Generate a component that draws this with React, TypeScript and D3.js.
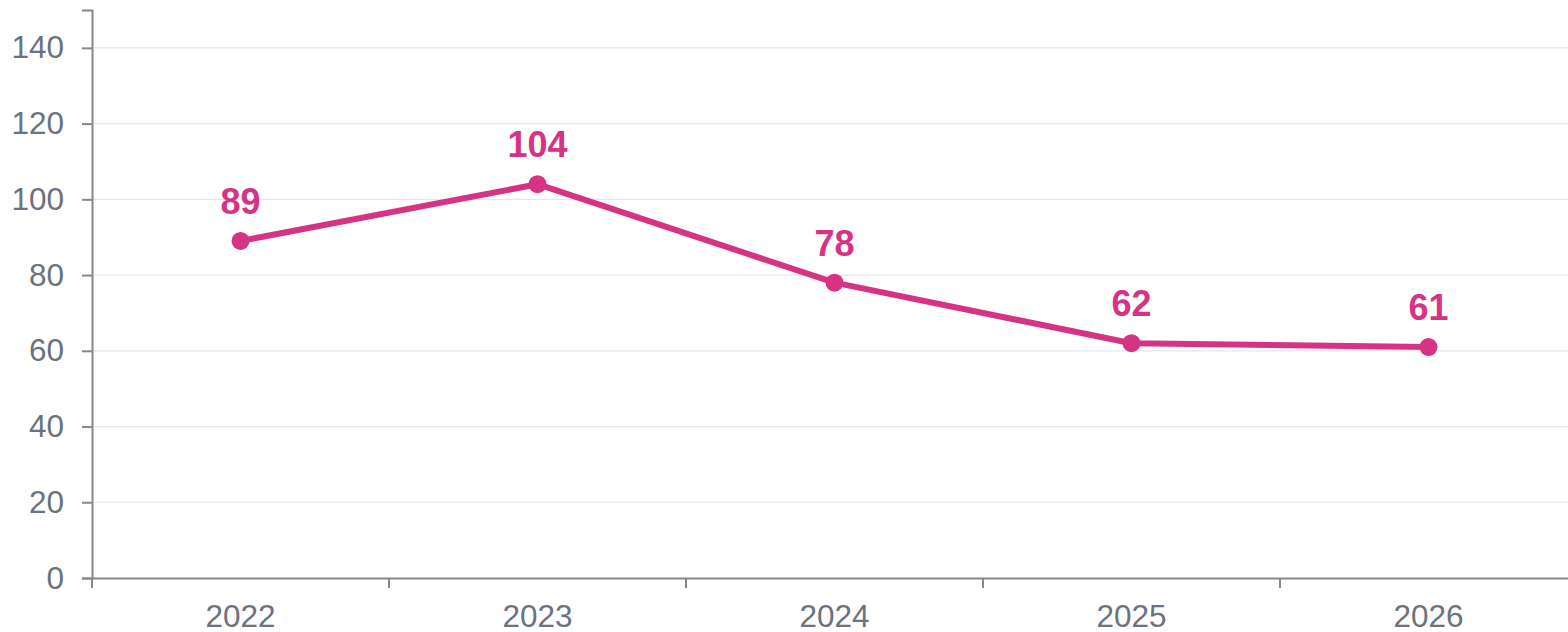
import React, { useEffect, useRef } from "react";
import * as d3 from "d3";

const years = ["2022", "2023", "2024", "2025", "2026"];
const values = [89, 104, 78, 62, 61];
const yTicks = [0, 20, 40, 60, 80, 100, 120, 140];

const App = () => {
  const ref = useRef<SVGSVGElement | null>(null);

  useEffect(() => {
    draw();
  });

  let draw = () => {
    const svg = d3.select(ref.current);
    svg.selectAll("*").remove();

    let width = 1568;
    let height = 632;
    let margin = { top: 10, left: 92, bottom: 54 };
    let step = 297;
    let font = "'Liberation Sans', Arial, sans-serif";
    let pink = "#d63384";

    let x = d3
      .scaleBand()
      .domain(years)
      .range([margin.left, margin.left + step * years.length]);
    let y = d3
      .scaleLinear()
      .domain([0, 150])
      .range([height - margin.bottom, margin.top]);

    // grid lines
    svg
      .append("g")
      .selectAll("line")
      .data(yTicks.filter((d) => d > 0))
      .enter()
      .append("line")
      .attr("x1", margin.left)
      .attr("x2", width)
      .attr("y1", (d) => y(d))
      .attr("y2", (d) => y(d))
      .attr("stroke", "#e1e7f2")
      .attr("stroke-width", 1.2);

    let yAxis = svg
      .append("g")
      .attr("transform", `translate(${margin.left},0)`)
      .call(d3.axisLeft(y).tickValues(yTicks).tickSize(10).tickPadding(18));
    yAxis.select(".domain").attr("stroke", "#888").attr("stroke-width", 2);
    yAxis.selectAll(".tick line").attr("stroke", "#888").attr("stroke-width", 2);
    yAxis
      .selectAll(".tick text")
      .attr("fill", "#6b7280")
      .style("font-family", font)
      .style("font-size", "31.5px");

    let xAxis = svg
      .append("g")
      .attr("transform", `translate(0,${height - margin.bottom})`)
      .call(
        d3
          .axisBottom(x)
          .tickSize(0)
          .tickPadding(27)
          .tickSizeOuter(0)
      );
    xAxis.select(".domain").attr("stroke", "#888").attr("stroke-width", 2);
    xAxis
      .selectAll(".tick text")
      .attr("fill", "#6b7280")
      .style("font-family", font)
      .style("font-size", "31.5px");

    // tick marks between the bands
    svg
      .append("g")
      .selectAll("line")
      .data(years)
      .enter()
      .append("line")
      .attr("x1", (d) => x(d) as number)
      .attr("x2", (d) => x(d) as number)
      .attr("y1", height - margin.bottom)
      .attr("y2", height - margin.bottom + 10)
      .attr("stroke", "#888")
      .attr("stroke-width", 2);

    let cx = (d: string) => (x(d) as number) + x.bandwidth() / 2;
    let pts = years.map((d, i) => ({ year: d, value: values[i] }));

    let line = d3
      .line<{ year: string; value: number }>()
      .x((d) => cx(d.year))
      .y((d) => y(d.value));

    svg
      .append("path")
      .datum(pts)
      .attr("d", line)
      .attr("fill", "none")
      .attr("stroke", pink)
      .attr("stroke-width", 6)
      .attr("stroke-linejoin", "round");

    svg
      .selectAll("circle")
      .data(pts)
      .enter()
      .append("circle")
      .attr("cx", (d) => cx(d.year))
      .attr("cy", (d) => y(d.value))
      .attr("r", 9)
      .attr("fill", pink);

    svg
      .append("g")
      .selectAll("text")
      .data(pts)
      .enter()
      .append("text")
      .attr("x", (d) => cx(d.year))
      .attr("y", (d) => y(d.value) - 27)
      .attr("text-anchor", "middle")
      .attr("fill", pink)
      .style("font-family", font)
      .style("font-size", "36px")
      .style("font-weight", "bold")
      .text((d) => d.value);
  };

  return (
    <svg
      ref={ref}
      width={1568}
      height={632}
      style={{ position: "absolute", left: 0, top: 0, background: "#fff" }}
    />
  );
};

export default App;
